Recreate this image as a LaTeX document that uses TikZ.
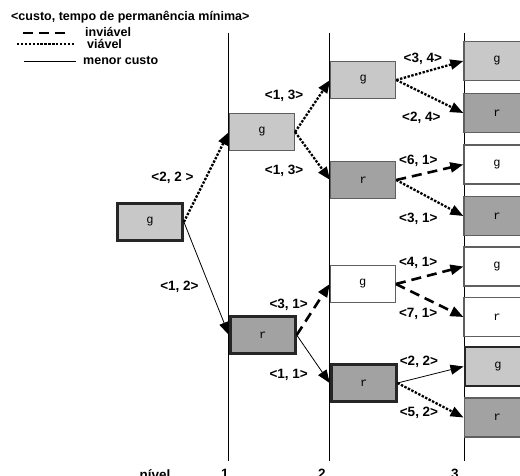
\documentclass[tikz,border=0pt]{standalone}
\usepackage{fontspec}
\setmainfont{Liberation Sans}
\setmonofont{Liberation Mono}
\usepackage{tikz}
\usetikzlibrary{positioning,arrows.meta}
\definecolor{claro}{RGB}{200,200,200}
\definecolor{escuro}{RGB}{162,162,162}
\definecolor{borda}{RGB}{95,95,95}
\tikzset{
  box/.style={rectangle, draw=borda, line width=1.2pt, minimum width=65pt, minimum height=37pt,
              inner sep=0pt, font=\ttfamily\fontsize{12}{14}\selectfont},
  wide/.style={minimum width=66pt, minimum height=39pt},
  light/.style={fill=claro},
  dark/.style={fill=escuro},
  blank/.style={fill=white},
  best/.style={draw=black!85, line width=2.8pt}, % caminho de menor custo
  lbl/.style={inner sep=0pt, font=\bfseries\fontsize{13.5}{15}\selectfont},
  leg/.style={inner sep=0pt, font=\bfseries\fontsize{12.5}{14}\selectfont},
  viavel/.style={line width=2.3pt, dash pattern=on 2.4pt off 1.5pt},
  inviavel/.style={line width=2.6pt, dash pattern=on 10pt off 6pt},
  menor/.style={line width=0.8pt},
  nivel/.style={line width=0.9pt},
}

\begin{document}
\begin{tikzpicture}[x=1pt, y=-1pt, >={Triangle[length=13pt, width=10pt]}]
  \useasboundingbox (0,0) rectangle (520,476);

  % legenda
  \node[leg, anchor=base west] (title) at (11,21) {<custo, tempo de permanência mínima>};
  \draw[inviavel] (23,33) -- (67,33);
  \draw[viavel] (17,44) -- (75,44);
  \draw[menor] (24,61) -- (76,61);
  \node[leg, anchor=base west] (leg1) at (85,36.5) {inviável};
  \node[leg, anchor=base west] (leg2) at (87,49) {viável};
  \node[leg, anchor=base west] (leg3) at (83,65) {menor custo};

  % niveis
  \draw[nivel] (228,33) -- (228,461);
  \draw[nivel] (329,33) -- (329,461);
  \draw[nivel] (464,33) -- (464,461);
  \node[lbl, anchor=north] (niv0) at (155,469) {nível};
  \node[lbl, anchor=north] (niv1) at (225,469) {1};
  \node[lbl, anchor=north] (niv2) at (322,469) {2};
  \node[lbl, anchor=north] (niv3) at (455,469) {3};

  \node[box, light, best] (node1) at (150,222) {g};
  \node[box, light] (node2) [right=45pt of node1, yshift=90pt] {g};
  \node[box, dark, best] (node3) [right=45pt of node1, yshift=-113pt] {r};

  \node[box, light] (node4) [right=35pt of node2, yshift=52pt] {g};
  \node[box, dark] (node5) [right=35pt of node2, yshift=-48pt] {r};
  \node[box, blank] (node6) [right=33pt of node3, yshift=51pt] {g};
  \node[box, dark, best] (node7) [right=33pt of node3, yshift=-48pt] {r};

  \node[box, wide, light] (node8) [right=67pt of node4, yshift=19pt] {g};
  \node[box, wide, dark] (node9) [right=67pt of node4, yshift=-33pt] {r};
  \node[box, wide, blank] (node10) [right=67pt of node5, yshift=15.5pt] {g};
  \node[box, wide, dark] (node11) [right=67pt of node5, yshift=-36pt] {r};
  \node[box, wide, blank] (node12) [right=67.5pt of node6, yshift=17.5pt] {g};
  \node[box, wide, blank] (node13) [right=67.5pt of node6, yshift=-33pt] {r};
  \node[box, wide, light, best] (node14) [right=66pt of node7, yshift=16.5pt] {g};
  \node[box, wide, dark] (node15) [right=66pt of node7, yshift=-34.5pt] {r};

  \draw[->, viavel] (node1.east) -- (node2.west) node[lbl, midway, xshift=-34pt, yshift=-1pt] {<2, 2 >};
  \draw[->, menor] (node1.east) -- (node3.west) node[lbl, midway, xshift=-27pt, yshift=-8pt] {<1, 2>};

  \draw[->, viavel] (node2.east) -- (node4.west) node[lbl, midway, xshift=-28.5pt, yshift=10pt] {<1, 3>};
  \draw[->, viavel] (node2.east) -- (node5.west) node[lbl, midway, xshift=-28.5pt, yshift=-14.5pt] {<1, 3>};
  \draw[->, inviavel] (node3.east) -- (node6.west) node[lbl, midway, xshift=-24.5pt, yshift=5pt] {<3, 1>};
  \draw[->, menor] (node3.east) -- (node7.west) node[lbl, midway, xshift=-24.5pt, yshift=-16pt] {<1, 1>};

  \draw[->, viavel] (node4.east) -- (node8.west) node[lbl, midway, xshift=-7pt, yshift=11.5pt] {<3, 4>};
  \draw[->, viavel] (node4.east) -- (node9.west) node[lbl, midway, xshift=-8.5pt, yshift=-21pt] {<2, 4>};
  \draw[->, inviavel] (node5.east) -- (node10.west) node[lbl, midway, xshift=-11.5pt, yshift=11.5pt] {<6, 1>};
  \draw[->, viavel] (node5.east) -- (node11.west) node[lbl, midway, xshift=-11.5pt, yshift=-21pt] {<3, 1>};
  \draw[->, inviavel] (node6.east) -- (node12.west) node[lbl, midway, xshift=-11.5pt, yshift=12.5pt] {<4, 1>};
  \draw[->, inviavel] (node6.east) -- (node13.west) node[lbl, midway, xshift=-11.5pt, yshift=-13.5pt] {<7, 1>};
  \draw[->, menor] (node7.east) -- (node14.west) node[lbl, midway, xshift=-11.5pt, yshift=12.5pt] {<2, 2>};
  \draw[->, viavel] (node7.east) -- (node15.west) node[lbl, midway, xshift=-11.5pt, yshift=-13pt] {<5, 2>};
\end{tikzpicture}
\end{document}
